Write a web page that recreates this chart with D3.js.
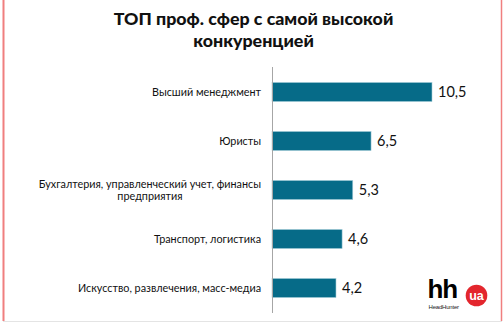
<!DOCTYPE html>
<html>
<head>
<meta charset="utf-8">
<script src="https://cdn.jsdelivr.net/npm/d3@7"></script>
<style>
  html, body { margin: 0; padding: 0; background: #fff; }
  svg { display: block; }
</style>
</head>
<body>
<svg id="chart" width="504" height="322"></svg>
<script>
// Professional areas with the highest competition (candidates per vacancy)
const categories = [
  "Высший менеджмент",
  "Юристы",
  "Бухгалтерия, управленческий учет, финансы предприятия",
  "Транспорт, логистика",
  "Искусство, развлечения, масс-медиа"
];
const values = [10.5, 6.5, 5.3, 4.6, 4.2];
const valueLabels = ["10,5", "6,5", "5,3", "4,6", "4,2"];
const titleLines = ["ТОП проф. сфер с самой высокой", "конкуренцией"];

const W = 504, H = 322;
const svg = d3.select("#chart");
const font = "Lato, 'Open Sans', sans-serif";

// frame
svg.append("rect").attr("x", 0).attr("y", 0).attr("width", W).attr("height", H).attr("fill", "#fff");
svg.append("line").attr("x1", 3.5).attr("x2", 3.5).attr("y1", 0).attr("y2", 321)
  .attr("stroke", "#f07f7f").attr("stroke-width", 2);
svg.append("line").attr("x1", 501.5).attr("x2", 501.5).attr("y1", 0).attr("y2", 321)
  .attr("stroke", "#f07f7f").attr("stroke-width", 1.5);
svg.append("line").attr("x1", 3).attr("x2", 502).attr("y1", 321.5).attr("y2", 321.5)
  .attr("stroke", "#e4e4e4").attr("stroke-width", 1);

// title
svg.append("text")
  .attr("x", 253.5).attr("y", 24.5)
  .attr("text-anchor", "middle")
  .attr("font-family", font).attr("font-weight", 900).attr("font-size", 17.8)
  .attr("fill", "#111")
  .selectAll("tspan").data(titleLines).join("tspan")
  .attr("x", 253.5).attr("dy", (d, i) => i === 0 ? 0 : 22.5)
  .text(d => d);

// scales
const x0 = 272;
const x = d3.scaleLinear().domain([0, 10.5]).range([x0, 432]);
const y = d3.scaleBand().domain(categories).range([67.5, 312.5]).paddingInner(0.61).paddingOuter(0.305);

// bars
svg.append("g").selectAll("rect").data(values).join("rect")
  .attr("x", x(0))
  .attr("y", (d, i) => y(categories[i]))
  .attr("width", d => x(d) - x(0))
  .attr("height", y.bandwidth())
  .attr("fill", "#066b88")
  .attr("stroke", "#a9cfdb")
  .attr("stroke-width", 0.6);

// axis line
svg.append("line").attr("x1", x0 + 0.5).attr("x2", x0 + 0.5).attr("y1", 67).attr("y2", 313)
  .attr("stroke", "#a6a6a6").attr("stroke-width", 1);

// value labels
svg.append("g").selectAll("text").data(values).join("text")
  .attr("x", d => x(d) + 6)
  .attr("y", (d, i) => y(categories[i]) + y.bandwidth() / 2 + 5)
  .attr("font-family", font).attr("font-size", 14.5).attr("fill", "#111")
  .text((d, i) => valueLabels[i]);

// category labels, wrapped into lines
const labelRight = 261;
const maxWidth = 230;
const measure = svg.append("text").attr("font-family", font).attr("font-size", 10.8).attr("visibility", "hidden");
function wrap(str) {
  const words = str.split(" ");
  const lines = [];
  let cur = "";
  for (const w of words) {
    const test = cur ? cur + " " + w : w;
    measure.text(test);
    if (measure.node().getComputedTextLength() > maxWidth && cur) {
      lines.push(cur);
      cur = w;
    } else cur = test;
  }
  lines.push(cur);
  return lines;
}
categories.forEach((c, i) => {
  const lines = wrap(c);
  const cy = y(c) + y.bandwidth() / 2;
  const lh = 12.5;
  if (lines.length === 1) {
    svg.append("text").attr("x", labelRight).attr("y", cy + 4)
      .attr("text-anchor", "end").attr("font-family", font).attr("font-size", 10.8).attr("fill", "#111")
      .text(lines[0]);
  } else {
    measure.text(lines[0]);
    const w0 = measure.node().getComputedTextLength();
    const center = labelRight - w0 / 2;
    lines.forEach((l, j) => {
      svg.append("text").attr("x", center).attr("y", cy + 4 - lh / 2 + j * lh)
        .attr("text-anchor", "middle").attr("font-family", font).attr("font-size", 10.8).attr("fill", "#111")
        .text(l);
    });
  }
});
measure.remove();

// brand mark
const logo = svg.append("g");
logo.append("text").attr("x", 427.5).attr("y", 297.5)
  .attr("font-family", "'Liberation Sans', Arial, sans-serif").attr("font-weight", "bold")
  .attr("font-size", 26).attr("letter-spacing", -1.2).attr("fill", "#000").text("hh");
logo.append("circle").attr("cx", 476.5).attr("cy", 295.5).attr("r", 10.8).attr("fill", "#e3262d");
logo.append("text").attr("x", 476.5).attr("y", 299.8).attr("text-anchor", "middle")
  .attr("font-family", "'Liberation Sans', Arial, sans-serif").attr("font-weight", "bold")
  .attr("font-size", 12.5).attr("fill", "#fff").text("ua");
logo.append("text").attr("x", 428.5).attr("y", 308.5)
  .attr("font-family", "'Liberation Sans Narrow', 'Liberation Sans', Arial, sans-serif")
  .attr("font-size", 6).attr("letter-spacing", -0.2).attr("fill", "#222").text("HeadHunter");
</script>
</body>
</html>
